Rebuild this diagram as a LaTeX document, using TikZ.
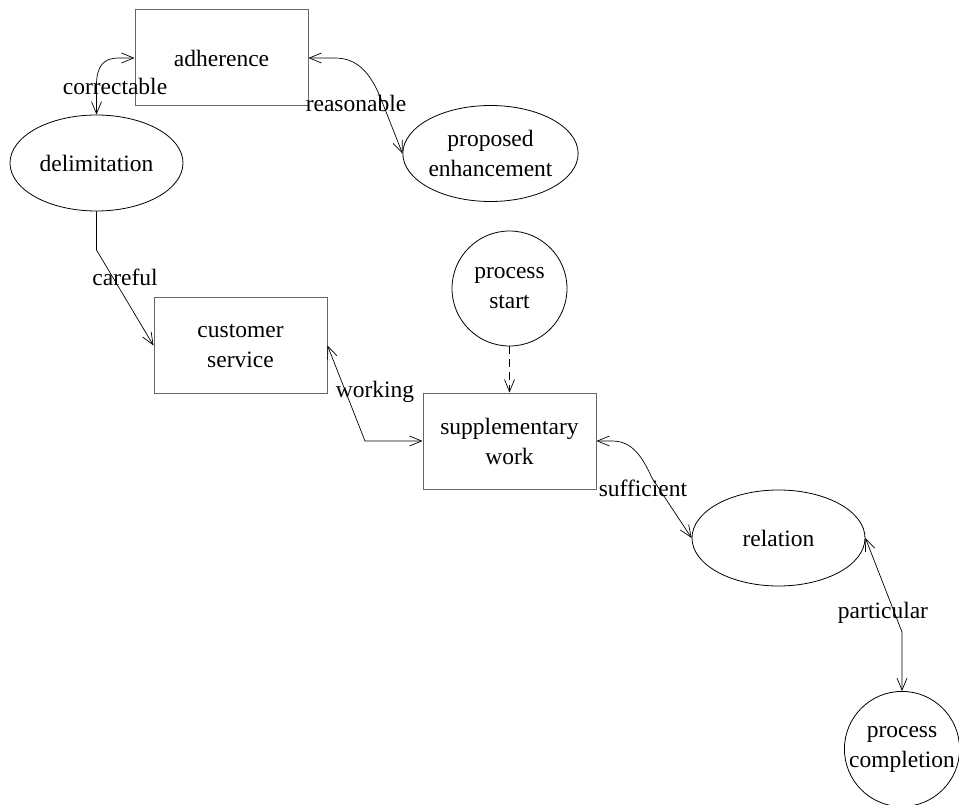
\documentclass[tikz,border=0pt]{standalone}
\usepackage{fontspec}
\setmainfont{Liberation Serif}
\usetikzlibrary{shapes.geometric,arrows.meta}
\begin{document}
\begin{tikzpicture}[x=1pt,y=-1pt,
  every node/.style={font=\fontsize{23.5}{30}\selectfont, align=center, inner sep=0pt},
  boxnode/.style={draw=black!60, line width=1pt, rectangle, minimum width=173pt, minimum height=96pt},
  ellnode/.style={draw, line width=0.8pt, ellipse, minimum width=173pt, minimum height=96pt},
  circnode/.style={draw, line width=0.8pt, circle, minimum size=115pt},
  conn/.style={line width=0.7pt, arrows={Straight Barb[length=12pt,width=10pt]-Straight Barb[length=12pt,width=10pt]}},
  oneway/.style={line width=0.7pt, -{Straight Barb[length=12pt,width=10pt]}},
  lbl/.style={}
]
\useasboundingbox (0,0) rectangle (959,805);
\node[boxnode] (adh) at (221.5,58) {adherence};
\node[ellnode] (del) at (96.5,163) {delimitation};
\node[ellnode] (pe) at (490.5,153.5) {proposed\\enhancement};
\node[boxnode] (cs) at (240.5,345.5) {customer\\service};
\node[circnode] (ps) at (509.5,288.5) {process\\start};
\node[boxnode] (sw) at (509.5,441) {supplementary\\work};
\node[ellnode] (rel) at (778.5,538) {relation};
\node[circnode] (pc) at (902,749) {process\\completion};

\draw[conn] (del.north) -- (96.5,85) .. controls (96.5,66) and (104,58) .. (118,58) -- (adh.west);
\node[lbl] (l1) at (115,86) {correctable};
\draw[conn] (adh.east) -- (335,58) .. controls (358,58) and (371,74) .. (381,99) -- (pe.west);
\node[lbl] (l2) at (356,103) {reasonable};
\draw[oneway] (del.south) -- (96.5,250) -- (cs.west);
\node[lbl] (l3) at (125,277) {careful};
\draw[oneway, dashed, dash pattern=on 8pt off 5pt] (ps.south) -- (sw.north);
\draw[conn] (cs.east) -- (365,441) -- (sw.west);
\node[lbl] (l4) at (375,392) {working};
\draw[conn] (sw.east) -- (612,441) .. controls (632,441) and (642,456) .. (652,478) -- (rel.west);
\node[lbl] (l5) at (643,488) {sufficient};
\draw[conn] (rel.east) -- (902,632) -- (pc.north);
\node[lbl] (l6) at (883,613) {particular};
\end{tikzpicture}
\end{document}
